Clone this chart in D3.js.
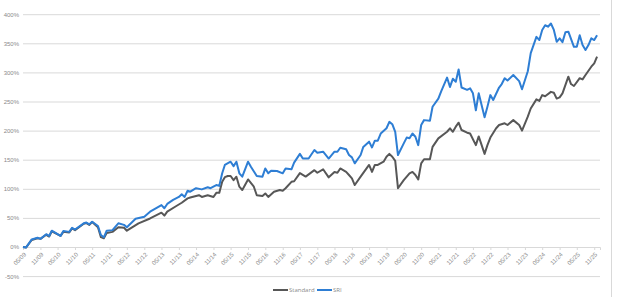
<!DOCTYPE html>
<html>
<head>
<meta charset="utf-8">
<script src="https://cdn.jsdelivr.net/npm/d3@7"></script>
<style>
    body { margin: 0; background: #fff; }
    svg { display: block; font-family: "Open Sans", sans-serif; }
</style>
</head>
<body>
<svg id="chart" width="631" height="297"></svg>
<script>
const seriesNames = ["Standard", "SRI"]

const sriDates = ["2009-05", "2009-06", "2009-08", "2009-10", "2009-11", "2010-01", "2010-02", "2010-03", "2010-06", "2010-07",
    "2010-09", "2010-10", "2010-11", "2011-02", "2011-03", "2011-04", "2011-05", "2011-07", "2011-08", "2011-09",
    "2011-10", "2011-12", "2012-02", "2012-04", "2012-05", "2012-08", "2012-11", "2013-01", "2013-05", "2013-06",
    "2013-07", "2013-09", "2013-11", "2013-12", "2014-01", "2014-02", "2014-03", "2014-05", "2014-07", "2014-09",
    "2014-10", "2014-12", "2015-01", "2015-02", "2015-03", "2015-05", "2015-06", "2015-07", "2015-08", "2015-09",
    "2015-11", "2015-12", "2016-02", "2016-04", "2016-05", "2016-06", "2016-07", "2016-09", "2016-11", "2016-12",
    "2017-02", "2017-03", "2017-05", "2017-06", "2017-08", "2017-10", "2017-11", "2018-01", "2018-03", "2018-05",
    "2018-06", "2018-07", "2018-09", "2018-10", "2018-11", "2018-12", "2019-02", "2019-03", "2019-05", "2019-06",
    "2019-07", "2019-08", "2019-09", "2019-11", "2019-12", "2020-01", "2020-02", "2020-03", "2020-05", "2020-06",
    "2020-07", "2020-08", "2020-09", "2020-10", "2020-11", "2020-12", "2021-02", "2021-03", "2021-05", "2021-06",
    "2021-08", "2021-09", "2021-10", "2021-11", "2021-12", "2022-01", "2022-03", "2022-04", "2022-05", "2022-06",
    "2022-07", "2022-09", "2022-10", "2022-11", "2022-12", "2023-02", "2023-03", "2023-04", "2023-05", "2023-07",
    "2023-09", "2023-10", "2023-12", "2024-01", "2024-03", "2024-04", "2024-05", "2024-06", "2024-07", "2024-08",
    "2024-09", "2024-10", "2024-11", "2024-12", "2025-01", "2025-02", "2025-04", "2025-05", "2025-06", "2025-07",
    "2025-08", "2025-09", "2025-10", "2025-11", "2025-12"]

const sriValues = [0, -1, 13, 16, 14, 22, 19, 28, 19, 27.5,
    26, 33, 30, 40.7, 42, 39, 43.5, 36, 20.6, 16.7,
    28, 29, 40.7, 38, 34, 48.6, 52, 60.7, 72, 66.5,
    74, 81, 86, 90.5, 86, 96.7, 95, 101, 99, 102.6,
    101, 106.5, 105, 126.6, 141, 146.6, 139, 146.6, 126.6, 120.8,
    146.6, 138, 122, 120.8, 135, 126.6, 131, 130.6, 126.6, 135,
    133.5, 145, 160, 152, 152, 166.6, 162, 163.7, 152, 163.7,
    163.7, 170.6, 168, 158, 154, 143.8, 158, 172, 181, 171,
    182.6, 182.6, 195, 204, 215, 211, 198, 158, 178, 188,
    186.7, 195, 189.5, 175, 209.6, 218, 217, 241, 255, 268,
    291, 275, 289, 284, 305, 274, 270, 272.6, 264, 235,
    264, 223, 241, 261, 252.6, 274, 280, 290, 286, 295.5,
    285, 271, 302, 333, 361, 355.6, 373, 381, 378.5, 384,
    373, 352.6, 358.6, 352, 369, 370, 344, 344, 364, 347,
    338.5, 347, 358.6, 355.6, 364]

const standardDates = ["2009-05", "2009-06", "2009-08", "2009-10", "2009-11", "2010-01", "2010-02", "2010-03", "2010-06", "2010-07",
    "2010-09", "2010-10", "2010-11", "2011-02", "2011-03", "2011-04", "2011-05", "2011-07", "2011-08", "2011-09",
    "2011-10", "2011-12", "2012-02", "2012-04", "2012-05", "2012-09", "2013-01", "2013-05", "2013-06", "2013-07",
    "2013-10", "2013-12", "2014-02", "2014-03", "2014-06", "2014-07", "2014-09", "2014-11", "2014-12", "2015-01",
    "2015-02", "2015-03", "2015-04", "2015-05", "2015-06", "2015-07", "2015-08", "2015-09", "2015-11", "2016-01",
    "2016-02", "2016-04", "2016-05", "2016-06", "2016-08", "2016-10", "2016-11", "2016-12", "2017-02", "2017-03",
    "2017-05", "2017-07", "2017-10", "2017-11", "2018-01", "2018-03", "2018-05", "2018-06", "2018-07", "2018-09",
    "2018-10", "2018-11", "2018-12", "2019-02", "2019-05", "2019-06", "2019-07", "2019-08", "2019-10", "2019-11",
    "2019-12", "2020-01", "2020-02", "2020-03", "2020-05", "2020-07", "2020-08", "2020-09", "2020-10", "2020-11",
    "2020-12", "2021-02", "2021-03", "2021-05", "2021-08", "2021-09", "2021-10", "2021-11", "2021-12", "2022-01",
    "2022-03", "2022-04", "2022-06", "2022-07", "2022-09", "2022-10", "2022-11", "2023-01", "2023-02", "2023-04",
    "2023-05", "2023-07", "2023-09", "2023-10", "2023-12", "2024-01", "2024-03", "2024-04", "2024-05", "2024-06",
    "2024-08", "2024-09", "2024-10", "2024-11", "2024-12", "2025-02", "2025-03", "2025-04", "2025-06", "2025-07",
    "2025-08", "2025-10", "2025-11", "2025-12"]

const standardValues = [0, -1, 12, 15, 14, 21, 18, 27, 19, 26,
    25, 32, 29, 40, 41, 38, 43, 34, 17, 15,
    24, 26, 34, 33, 28, 40.7, 49, 59, 54, 60.7,
    70, 76, 83.6, 85, 89, 86, 89, 86, 93, 93,
    112, 120, 122, 122, 115, 120.8, 103.6, 98, 116, 103.6,
    89, 87.6, 92, 86, 95, 98, 96.7, 101, 112, 113,
    127, 121, 132, 127.6, 133.5, 119.7, 129, 127.6, 135, 129,
    123.7, 118, 106.5, 120.8, 141, 129, 141, 141, 146.6, 155,
    160, 155, 148, 101, 115, 126.6, 129, 123.7, 116, 143.8,
    150.7, 150.7, 172, 186.7, 198, 204, 198, 206.7, 213.6, 201,
    196.4, 195, 175, 190, 160, 175, 188, 204, 209.6, 212.5,
    209.6, 218, 209.6, 200, 224, 238, 253.7, 251, 261, 259,
    266.6, 265, 255, 257, 264, 292.6, 280, 276.6, 290, 288,
    295.5, 309.8, 315.6, 327]

const yTicks = [-50, 0, 50, 100, 150, 200, 250, 300, 350, 400]

let svg = d3.select("#chart"),
    parseMonth = d3.timeParse("%Y-%m"),
    startDate = parseMonth("2009-05"),
    endDate = parseMonth("2026-01"),
    gridColor = "#d9d9d9",
    textColor = "#8a8a8a",
    colors = { Standard: "#575757", SRI: "#2e7ed4" }

let x = d3.scaleTime()
    .domain([startDate, endDate])
    .range([23, 600])

let y = d3.scaleLinear()
    .domain([-50, 400])
    .range([276.1, 14.2])

function toPoints(dates, values) {
    return dates.map(function(d, i) {
        return { date: parseMonth(d), value: values[i] }
    })
}

let series = [
    { name: "Standard", points: toPoints(standardDates, standardValues) },
    { name: "SRI", points: toPoints(sriDates, sriValues) }
]

// horizontal gridlines and y labels
let yAxis = d3.axisLeft(y)
    .tickValues(yTicks)
    .tickSize(-(600 - 23))
    .tickPadding(4)
    .tickFormat(d => d + "%")

svg.append("g")
    .attr("transform", "translate(23,0)")
    .call(yAxis)
    .call(function(g) {
        g.select(".domain").remove()
        g.selectAll(".tick line").attr("stroke", gridColor).attr("stroke-width", 1)
        g.selectAll(".tick text")
            .attr("fill", textColor)
            .style("font-size", "6px")
    })

// x axis on the 0% line
let xAxis = d3.axisBottom(x)
    .tickValues(d3.timeMonth.range(startDate, endDate, 6))
    .tickSize(3)
    .tickFormat(d3.timeFormat("%m/%y"))

svg.append("g")
    .attr("transform", "translate(0," + y(0) + ")")
    .call(xAxis)
    .call(function(g) {
        g.select(".domain").attr("stroke", gridColor)
        g.selectAll(".tick line").attr("stroke", gridColor)
        g.selectAll(".tick text")
            .attr("fill", textColor)
            .style("font-size", "6px")
            .attr("text-anchor", "end")
            .attr("y", 0)
            .attr("dy", 0)
            .attr("transform", "translate(3,8) rotate(-45)")
    })

// chart border on the right
svg.append("line")
    .attr("x1", 611.5).attr("x2", 611.5)
    .attr("y1", 0).attr("y2", 297)
    .attr("stroke", gridColor)

let line = d3.line()
    .x(d => x(d.date))
    .y(d => y(d.value))

svg.selectAll(".series")
    .data(series)
    .enter()
    .append("path")
    .attr("class", "series")
    .attr("d", d => line(d.points))
    .attr("fill", "none")
    .attr("stroke", d => colors[d.name])
    .attr("stroke-width", 2)
    .attr("stroke-linejoin", "round")

// legend
let legendItems = [
    { name: seriesNames[0], x: 273 },
    { name: seriesNames[1], x: 317 }
]

let legend = svg.selectAll(".legend")
    .data(legendItems)
    .enter()
    .append("g")
    .attr("class", "legend")
    .attr("transform", d => "translate(" + d.x + ",290)")

legend.append("line")
    .attr("x1", 0).attr("x2", 15)
    .attr("stroke", d => colors[d.name])
    .attr("stroke-width", 2)

legend.append("text")
    .attr("x", 16)
    .attr("dy", "0.35em")
    .attr("fill", textColor)
    .style("font-size", "6px")
    .text(d => d.name)
</script>
</body>
</html>
